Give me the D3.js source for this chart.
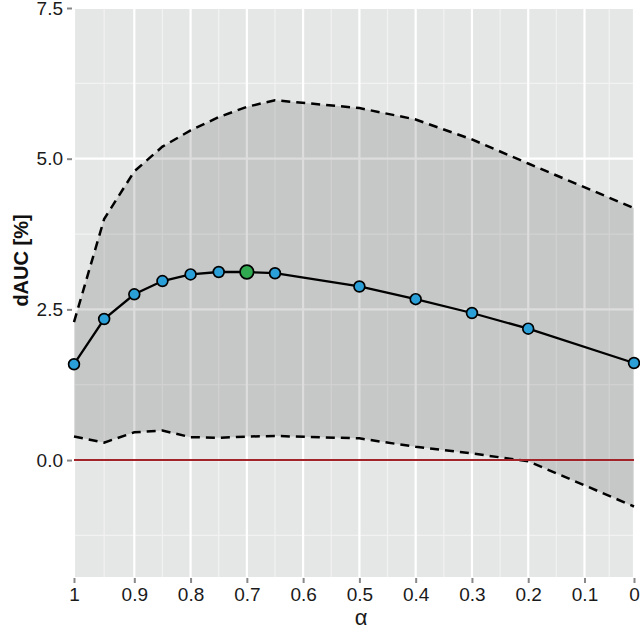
<!DOCTYPE html>
<html>
<head>
<meta charset="utf-8">
<script src="https://cdn.jsdelivr.net/npm/d3@7"></script>
<style>
  html, body { margin: 0; padding: 0; background: #ffffff; }
  svg { display: block; }
  text { font-family: "Liberation Sans", Arial, Helvetica, sans-serif; }
</style>
</head>
<body>
<svg id="chart" width="640" height="630"></svg>
<script>
// ---- data ----
const alpha = [1, 0.95, 0.9, 0.85, 0.8, 0.75, 0.7, 0.65, 0.5, 0.4, 0.3, 0.2, 0];
const dauc  = [1.59, 2.34, 2.75, 2.97, 3.08, 3.12, 3.12, 3.10, 2.88, 2.67, 2.44, 2.18, 1.61];
const upper = [2.29, 4.00, 4.79, 5.20, 5.47, 5.69, 5.86, 5.97, 5.84, 5.65, 5.32, 4.92, 4.18];
const lower = [0.39, 0.29, 0.46, 0.49, 0.38, 0.37, 0.39, 0.40, 0.36, 0.22, 0.11, -0.02, -0.77];
const bestAlpha = 0.7;
const xTicks = [1, 0.9, 0.8, 0.7, 0.6, 0.5, 0.4, 0.3, 0.2, 0.1, 0];
const xTickLabels = ["1", "0.9", "0.8", "0.7", "0.6", "0.5", "0.4", "0.3", "0.2", "0.1", "0"];
const xMinor = [0.95, 0.85, 0.75, 0.65, 0.55, 0.45, 0.35, 0.25, 0.15, 0.05];
const yTicks = [0, 2.5, 5, 7.5];
const yTickLabels = ["0.0", "2.5", "5.0", "7.5"];
const yMinor = [-1.25, 1.25, 3.75, 6.25];
const yDomain = [-1.94, 7.5];

// ---- layout ----
const svg = d3.select("#chart");
const L = 74, R = 634, T = 8, B = 577;

const x = d3.scaleLinear().domain([1, 0.9, 0.1, 0]).range([L, 134.3, 584.5, R]);
const y = d3.scaleLinear().domain(yDomain).range([B, T]);

// panel
svg.append("rect").attr("x", L).attr("y", T).attr("width", R - L).attr("height", B - T)
  .attr("fill", "#e5e6e6");

const grid = svg.append("g");
grid.selectAll(".vmin").data(xMinor).join("line")
  .attr("x1", d => x(d)).attr("x2", d => x(d)).attr("y1", T).attr("y2", B)
  .attr("stroke", "#f2f2f2").attr("stroke-width", 1.2);
grid.selectAll(".hmin").data(yMinor).join("line")
  .attr("x1", L).attr("x2", R).attr("y1", d => y(d)).attr("y2", d => y(d))
  .attr("stroke", "#f2f2f2").attr("stroke-width", 1.2);
grid.selectAll(".vmaj").data(xTicks).join("line")
  .attr("x1", d => x(d)).attr("x2", d => x(d)).attr("y1", T).attr("y2", B)
  .attr("stroke", "#ffffff").attr("stroke-width", 2.2);
grid.selectAll(".hmaj").data(yTicks).join("line")
  .attr("x1", L).attr("x2", R).attr("y1", d => y(d)).attr("y2", d => y(d))
  .attr("stroke", "#ffffff").attr("stroke-width", 2.2);

const rows = alpha.map((a, i) => ({ a, v: dauc[i], lo: lower[i], hi: upper[i] }));

// band
const area = d3.area().x(d => x(d.a)).y0(d => y(d.lo)).y1(d => y(d.hi));
svg.append("path").datum(rows).attr("d", area)
  .attr("fill", "#000000").attr("fill-opacity", 0.135);

// dashed bounds
const dash = "9,6";
svg.append("path").datum(rows)
  .attr("d", d3.line().x(d => x(d.a)).y(d => y(d.hi)))
  .attr("fill", "none").attr("stroke", "#000").attr("stroke-width", 2.5).attr("stroke-dasharray", dash);
svg.append("path").datum(rows)
  .attr("d", d3.line().x(d => x(d.a)).y(d => y(d.lo)))
  .attr("fill", "none").attr("stroke", "#000").attr("stroke-width", 2.5).attr("stroke-dasharray", dash);

// zero line
svg.append("line").attr("x1", L).attr("x2", R).attr("y1", y(0)).attr("y2", y(0))
  .attr("stroke", "#a3232a").attr("stroke-width", 2);

// main line
svg.append("path").datum(rows)
  .attr("d", d3.line().x(d => x(d.a)).y(d => y(d.v)))
  .attr("fill", "none").attr("stroke", "#000").attr("stroke-width", 2.3);

// points
svg.selectAll(".pt").data(rows).join("circle")
  .attr("cx", d => x(d.a)).attr("cy", d => y(d.v))
  .attr("r", d => d.a === bestAlpha ? 6.8 : 5.4)
  .attr("fill", d => d.a === bestAlpha ? "#2fa84f" : "#2a9fd8")
  .attr("stroke", "#000").attr("stroke-width", 1.7);

// axes
const yAxis = d3.axisLeft(y).tickValues(yTicks).tickFormat((d, i) => yTickLabels[i])
  .tickSize(5).tickPadding(4);
const gy = svg.append("g").attr("transform", `translate(${L - 2},0)`).call(yAxis);
gy.select(".domain").remove();
gy.selectAll(".tick line").attr("stroke", "#888").attr("stroke-width", 2);
gy.selectAll(".tick text").attr("font-size", 19).attr("fill", "#1a1a1a");

const xAxis = d3.axisBottom(x).tickValues(xTicks).tickFormat((d, i) => xTickLabels[i])
  .tickSize(5).tickPadding(5);
const gx = svg.append("g").attr("transform", `translate(0,${B + 1})`).call(xAxis);
gx.select(".domain").remove();
gx.selectAll(".tick line").attr("stroke", "#888").attr("stroke-width", 2);
gx.selectAll(".tick text").attr("font-size", 19).attr("fill", "#1a1a1a");

// titles
svg.append("text").attr("x", 361).attr("y", 625).attr("text-anchor", "middle")
  .attr("font-size", 22).attr("fill", "#1a1a1a").text("α");
svg.append("text").attr("transform", `translate(28,${(T + B) / 2 - 32}) rotate(-90)`)
  .attr("text-anchor", "middle").attr("font-size", 20).attr("font-weight", "bold")
  .attr("fill", "#111").text("dAUC [%]");
</script>
</body>
</html>
